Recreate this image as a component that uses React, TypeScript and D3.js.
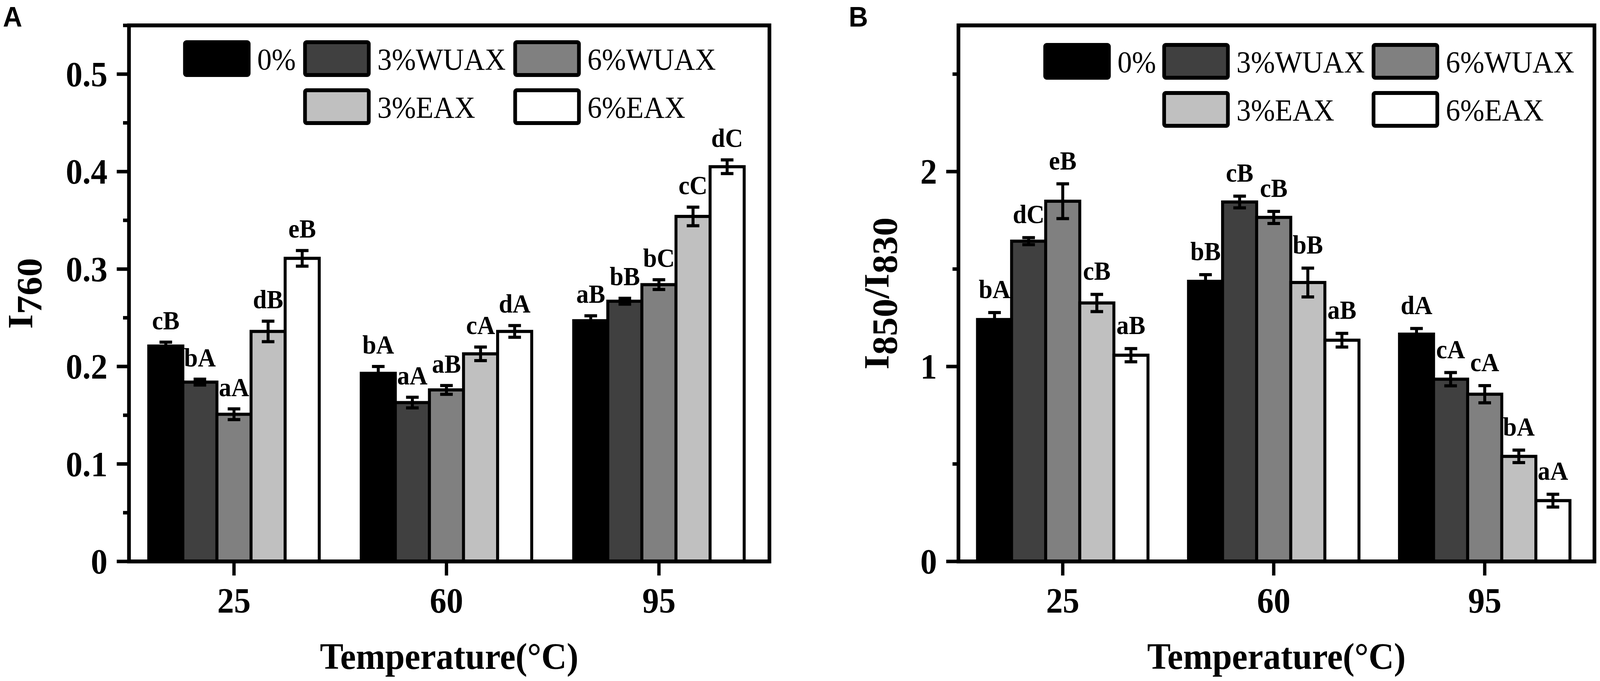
import * as d3 from "d3";

// categories and series
const TEMPS = [25, 60, 95];
const GROUPS = ["0%", "3%WUAX", "6%WUAX", "3%EAX", "6%EAX"];
const FILLS = ["#000000", "#404040", "#808080", "#c0c0c0", "#ffffff"];

// panel A: I760 (rows follow GROUPS, columns follow TEMPS)
const I760_MEAN = [
  [0.221, 0.193, 0.247],
  [0.184, 0.163, 0.267],
  [0.151, 0.176, 0.284],
  [0.236, 0.213, 0.354],
  [0.311, 0.236, 0.405],
];
const I760_ERR = [
  [0.004, 0.007, 0.005],
  [0.003, 0.0055, 0.003],
  [0.0055, 0.0045, 0.005],
  [0.0105, 0.007, 0.0095],
  [0.008, 0.006, 0.007],
];
const I760_LETTERS = [
  ["cB", "bA", "aB"],
  ["bA", "aA", "bB"],
  ["aA", "aB", "bC"],
  ["dB", "cA", "cC"],
  ["eB", "dA", "dC"],
];
const I760_MAJOR = [0, 0.1, 0.2, 0.3, 0.4, 0.5];
const I760_MINOR = [0.05, 0.15, 0.25, 0.35, 0.45, 0.55];

// panel B: I850/I830
const RATIO_MEAN = [
  [1.241, 1.437, 1.166],
  [1.643, 1.844, 0.935],
  [1.848, 1.765, 0.858],
  [1.326, 1.431, 0.539],
  [1.058, 1.135, 0.312],
];
const RATIO_ERR = [
  [0.036, 0.034, 0.029],
  [0.018, 0.03, 0.034],
  [0.089, 0.031, 0.044],
  [0.044, 0.074, 0.032],
  [0.034, 0.035, 0.033],
];
const RATIO_LETTERS = [
  ["bA", "bB", "dA"],
  ["dC", "cB", "cA"],
  ["eB", "cB", "cA"],
  ["cB", "bB", "bA"],
  ["aB", "aB", "aA"],
];
const RATIO_MAJOR = [0, 1, 2];
const RATIO_MINOR = [0.5, 1.5, 2.5];

// legend layout: [series, column, row]
const LEGEND_SLOTS = [
  [0, 0, 0],
  [1, 1, 0],
  [2, 2, 0],
  [3, 1, 1],
  [4, 2, 1],
];

const SERIF = "'Liberation Serif', 'Times New Roman', serif";
const SANS = "'Liberation Sans', Arial, sans-serif";
const W = 4317;
const H = 1743;
const Y0 = 65;
const Y1 = 1437;
const X_DOMAIN = [7.7, 113.2];

type PanelProps = {
  letter: string;
  letterX: number;
  x0: number;
  x1: number;
  yMax: number;
  major: number[];
  minor: number[];
  means: number[][];
  errs: number[][];
  letters: string[][];
  gap: number;
  legendCols: number[];
  legendTop: number;
  titleX: number;
  title: React.ReactNode;
};

function Panel(p: PanelProps) {
  const x = d3.scaleLinear().domain(X_DOMAIN).range([p.x0, p.x1]);
  const y = d3.scaleLinear().domain([0, p.yMax]).range([Y1, Y0]);
  const offset = d3.scaleBand().domain(GROUPS).range([-230, 230]);
  const bw = offset.bandwidth();
  const mid = (a: number, b: number) => (a + b) / 2;

  return (
    <g>
      <text x={p.letterX} y={68} fontFamily={SANS} fontWeight="bold" fontSize={72}>
        {p.letter}
      </text>

      {/* bars */}
      {GROUPS.map((g, si) =>
        TEMPS.map((t, ti) => {
          const v = p.means[si][ti];
          return (
            <rect
              key={`bar-${g}-${t}`}
              x={x(t) + (offset(g) as number)}
              y={y(v)}
              width={bw}
              height={Y1 - y(v)}
              fill={FILLS[si]}
              stroke="#000"
              strokeWidth={8}
            />
          );
        })
      )}

      {/* error bars and significance letters */}
      {GROUPS.map((g, si) =>
        TEMPS.map((t, ti) => {
          const v = p.means[si][ti];
          const e = p.errs[si][ti];
          const c = x(t) + (offset(g) as number) + bw / 2;
          return (
            <g key={`err-${g}-${t}`} stroke="#000" strokeWidth={8}>
              <line x1={c} x2={c} y1={y(v - e)} y2={y(v + e)} />
              <line x1={c - 17} x2={c + 17} y1={y(v + e)} y2={y(v + e)} />
              <line x1={c - 17} x2={c + 17} y1={y(v - e)} y2={y(v - e)} />
              <text
                x={c}
                y={y(v + e) - p.gap}
                stroke="none"
                fill="#000"
                textAnchor="middle"
                fontFamily={SERIF}
                fontWeight="bold"
                fontSize={67}
              >
                {p.letters[si][ti]}
              </text>
            </g>
          );
        })
      )}

      {/* y ticks */}
      {p.major.map((v) => (
        <g key={`maj-${v}`}>
          <line x1={p.x0 - 33} x2={p.x0} y1={y(v)} y2={y(v)} stroke="#000" strokeWidth={9} />
          <text
            x={p.x0 - 58}
            y={y(v) + 31}
            textAnchor="end"
            fontFamily={SERIF}
            fontWeight="bold"
            fontSize={90}
          >
            {d3.format("~g")(v)}
          </text>
        </g>
      ))}
      {p.minor.map((v) => (
        <line key={`min-${v}`} x1={p.x0 - 16} x2={p.x0} y1={y(v)} y2={y(v)} stroke="#000" strokeWidth={9} />
      ))}

      {/* x ticks */}
      {TEMPS.map((t) => (
        <g key={`xt-${t}`}>
          <line x1={x(t)} x2={x(t)} y1={Y1} y2={Y1 + 36} stroke="#000" strokeWidth={9} />
          <text x={x(t)} y={1568} textAnchor="middle" fontFamily={SERIF} fontWeight="bold" fontSize={90}>
            {t}
          </text>
        </g>
      ))}

      {/* frame */}
      <rect x={p.x0} y={Y0} width={p.x1 - p.x0} height={Y1 - Y0} fill="none" stroke="#000" strokeWidth={10} />

      {/* legend */}
      {LEGEND_SLOTS.map(([si, col, row]) => {
        const lx = p.x0 + p.legendCols[col];
        const ly = p.legendTop + row * 123;
        return (
          <g key={`leg-${si}`}>
            <rect x={lx + 5} y={ly + 5} width={172} height={84} rx={4} fill={FILLS[si]} stroke="#000" strokeWidth={10} />
            <text x={lx + 200} y={ly + 75} fontFamily={SERIF} fontSize={78}>
              {GROUPS[si]}
            </text>
          </g>
        );
      })}

      {/* axis titles */}
      <text x={mid(p.x0, p.x1)} y={1712} textAnchor="middle" fontFamily={SERIF} fontWeight="bold" fontSize={95}>
        Temperature(°C)
      </text>
      <text
        transform={`translate(${p.titleX},${mid(Y0, Y1)}) rotate(-90)`}
        textAnchor="middle"
        fontFamily={SERIF}
        fontWeight="bold"
        fontSize={96}
      >
        {p.title}
      </text>
    </g>
  );
}

export default function App() {
  return (
    <svg
      viewBox={`0 0 ${W} ${H}`}
      preserveAspectRatio="none"
      style={{ position: "fixed", left: 0, top: 0, width: "100vw", height: "100vh", display: "block", background: "#fff" }}
    >
      <rect x={0} y={0} width={W} height={H} fill="#fff" />
      <Panel
        letter="A"
        letterX={8}
        x0={348}
        x1={2076}
        yMax={0.55}
        major={I760_MAJOR}
        minor={I760_MINOR}
        means={I760_MEAN}
        errs={I760_ERR}
        letters={I760_LETTERS}
        gap={33}
        legendCols={[146, 470, 1037]}
        legendTop={103}
        titleX={88}
        title={
          <>
            I<tspan dy={24}>760</tspan>
          </>
        }
      />
      <Panel
        letter="B"
        letterX={2290}
        x0={2586}
        x1={4302}
        yMax={2.75}
        major={RATIO_MAJOR}
        minor={RATIO_MINOR}
        means={RATIO_MEAN}
        errs={RATIO_ERR}
        letters={RATIO_LETTERS}
        gap={37}
        legendCols={[229, 550, 1115]}
        legendTop={110}
        titleX={2398}
        title={
          <>
            I<tspan dy={22}>850</tspan>
            <tspan dy={-22}>/I</tspan>
            <tspan dy={22}>830</tspan>
          </>
        }
      />
    </svg>
  );
}
